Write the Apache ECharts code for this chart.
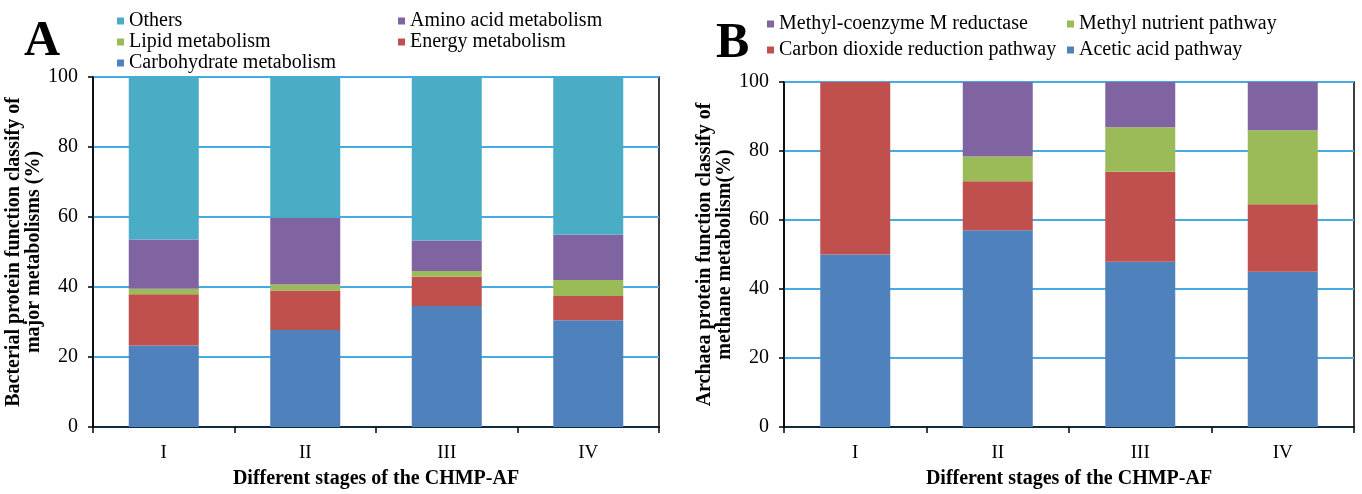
<!DOCTYPE html>
<html><head><meta charset="utf-8">
<script src="https://cdn.jsdelivr.net/npm/echarts@6/dist/echarts.min.js"></script>
<style>html,body{margin:0;padding:0;background:#fff}#c{width:1362px;height:494px}</style>
</head><body><div id="c"></div>
<script>
const stages = ['I', 'II', 'III', 'IV'];
// Panel A (bacteria), segment values in %
const carbohydrate = [23.3, 27.7, 34.6, 30.5];
const energy = [14.6, 11.3, 8.3, 6.9];
const lipid = [1.6, 1.7, 1.7, 4.6];
const aminoAcid = [14.1, 19.1, 8.7, 12.9];
const others = [46.4, 40.2, 46.7, 45.1];
// Panel B (archaea), segment values in %
const acetic = [50.0, 57.0, 47.9, 45.0];
const co2Reduction = [50.0, 14.2, 26.1, 19.6];
const methylNutrient = [0, 7.2, 12.9, 21.4];
const mcr = [0, 21.6, 13.1, 14.0];

const C = {blue:'#4F81BD', red:'#C0504D', green:'#9BBB59', purple:'#8064A2', teal:'#4BACC6'};
const FONT = '"Liberation Serif", serif';

function xAx(gi){
  return {type:'category', gridIndex:gi, data:stages,
    axisLine:{lineStyle:{color:'#000', width:1.5}},
    axisTick:{show:true, length:6, lineStyle:{color:'#000', width:1.5}, alignWithLabel:false},
    axisLabel:{color:'#000', fontFamily:FONT, fontSize:19, margin:17},
    name:'Different stages of the CHMP-AF', nameLocation:'middle', nameGap:42,
    nameTextStyle:{color:'#000', fontFamily:FONT, fontSize:20, fontWeight:'bold'}};
}
function yAx(gi, name, gap){
  return {type:'value', gridIndex:gi, min:0, max:100, interval:20,
    axisLine:{show:true, lineStyle:{color:'#000', width:1.5}},
    axisTick:{show:true, length:5, lineStyle:{color:'#000', width:1.5}},
    axisLabel:{color:'#000', fontFamily:FONT, fontSize:20, margin:15},
    splitLine:{show:true, lineStyle:{color:'#45ABE2', width:2}},
    name:name, nameLocation:'middle', nameRotate:90, nameGap:gap,
    nameTextStyle:{color:'#000', fontFamily:FONT, fontSize:20, fontWeight:'bold', lineHeight:20, align:'center'}};
}
function bar(name, data, color, gi, stack){
  return {name, type:'bar', stack, data, xAxisIndex:gi, yAxisIndex:gi,
    barWidth:70, itemStyle:{color}, emphasis:{disabled:true}, animation:false};
}
const legendText = {color:'#000', fontFamily:FONT, fontSize:20};
function leg(data, left, top, gap){
  return {data, left, top, orient:'vertical', itemWidth:7, itemHeight:7, itemGap:gap,
    icon:'rect', textStyle:legendText, selectedMode:false, padding:0};
}

const chart = echarts.init(document.getElementById('c'), null, {renderer:'canvas'});
chart.setOption({
  animation:false,
  backgroundColor:'#fff',
  title:[
    {text:'A', left:19, top:12, textStyle:{fontFamily:FONT, fontSize:50, fontWeight:'bold', color:'#000'}},
    {text:'B', left:711, top:14, textStyle:{fontFamily:FONT, fontSize:50, fontWeight:'bold', color:'#000'}}
  ],
  legend:[
    leg(['Others','Lipid metabolism','Carbohydrate metabolism'], 117, 11, 1),
    leg(['Amino acid metabolism','Energy metabolism'], 398, 11, 1),
    leg(['Methyl-coenzyme M reductase','Carbon dioxide reduction pathway'], 767, 14, 6),
    leg(['Methyl nutrient pathway','Acetic acid pathway'], 1067, 14, 6)
  ],
  grid:[
    {left:93, top:77, width:566, height:354, show:true, borderColor:'#000', borderWidth:1.5},
    {left:784, top:82, width:570, height:350, show:true, borderColor:'#000', borderWidth:1.5}
  ],
  xAxis:[xAx(0), xAx(1)],
  yAxis:[yAx(0,'Bacterial protein function classify of\nmajor metabolisms (%)', 35),
         yAx(1,'Archaea protein function classify of\nmethane metabolism(%)', 34)],
  series:[
    bar('Carbohydrate metabolism', carbohydrate, C.blue, 0, 'a'),
    bar('Energy metabolism', energy, C.red, 0, 'a'),
    bar('Lipid metabolism', lipid, C.green, 0, 'a'),
    bar('Amino acid metabolism', aminoAcid, C.purple, 0, 'a'),
    bar('Others', others, C.teal, 0, 'a'),
    bar('Acetic acid pathway', acetic, C.blue, 1, 'b'),
    bar('Carbon dioxide reduction pathway', co2Reduction, C.red, 1, 'b'),
    bar('Methyl nutrient pathway', methylNutrient, C.green, 1, 'b'),
    bar('Methyl-coenzyme M reductase', mcr, C.purple, 1, 'b')
  ]
});
</script></body></html>
